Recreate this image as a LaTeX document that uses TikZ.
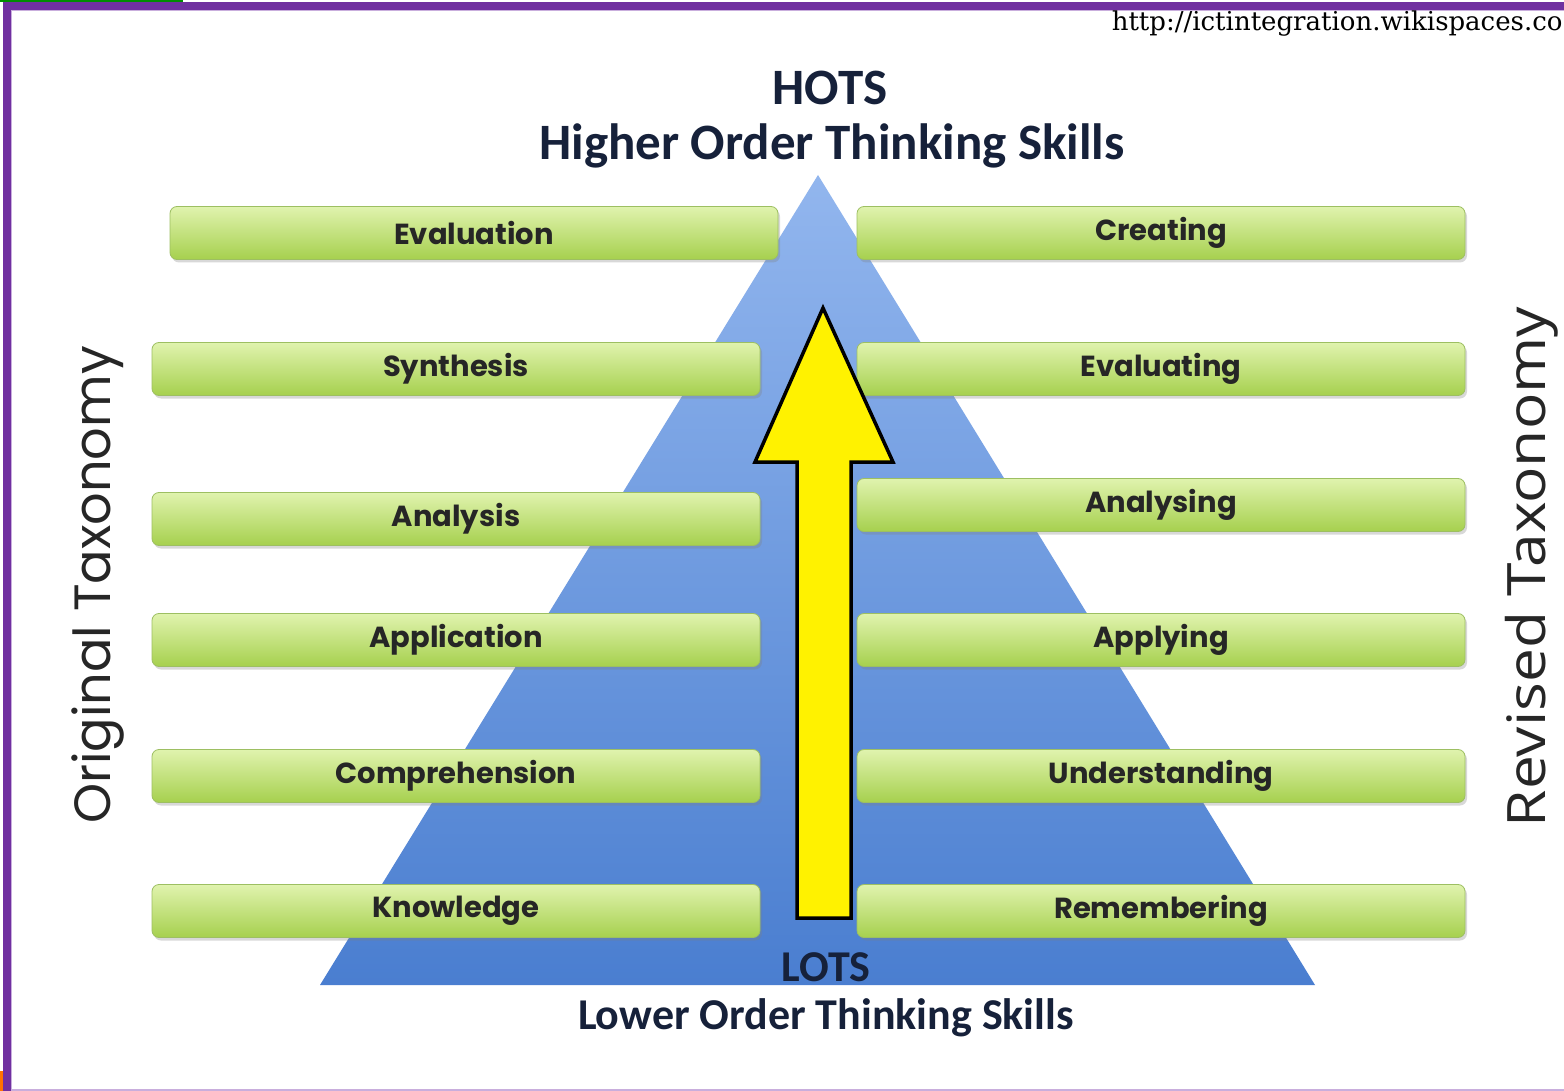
\documentclass[tikz,border=0pt]{standalone}
\usepackage{fontspec}
\setmainfont{Liberation Serif}
\newfontfamily\urlfont{DejaVu Serif}
\newfontfamily\gothic{Poppins}
\newfontfamily\calib{Carlito}
\newfontfamily\opensans[FakeStretch=1.14]{Open Sans}
\usetikzlibrary{shadows}
\definecolor{frame}{HTML}{7030A0}
\definecolor{framelight}{HTML}{C9AEDD}
\definecolor{pyrtop}{HTML}{92B6EE}
\definecolor{pyrbot}{HTML}{4A7ED0}
\definecolor{boxtop}{HTML}{E0F3AE}
\definecolor{boxbot}{HTML}{A6D04E}
\definecolor{boxedge}{HTML}{9DBF62}
\definecolor{navy}{HTML}{16213A}
\tikzset{
  skill/.style={minimum width=608, minimum height=53, rounded corners=7,
    top color=boxtop, bottom color=boxbot, draw=boxedge, line width=0.8,
    drop shadow={shadow xshift=2pt, shadow yshift=-3pt, opacity=0.3},
    font=\gothic\bfseries\fontsize{29}{32}\selectfont, text=black!85},
  heading/.style={font=\calib\bfseries\fontsize{51}{56}\selectfont, text=navy},
  subheading/.style={font=\calib\bfseries\fontsize{44}{48}\selectfont, text=navy},
  side/.style={text=black!85, rotate=90}
}
\begin{document}
\begin{tikzpicture}[x=1pt,y=-1pt]
    \useasboundingbox (0,0) rectangle (1564,1091);
    \fill[white] (0,0) rectangle (1564,1091);
    \fill[frame] (3,2) rectangle (1564,10);
    \fill[frame] (3,2) rectangle (11,1091);
    \draw[framelight,line width=1] (11.5,10.5) -- (1564,10.5);
    \draw[framelight,line width=1] (11.5,10.5) -- (11.5,1091);
    \draw[framelight,line width=2] (11,1090) -- (1564,1090);
    \fill[green!55!black] (0,0) rectangle (183,2);
    \fill[orange!90!red] (0,1071) rectangle (3,1091);
    \node[anchor=east, font=\urlfont\fontsize{26}{28}\selectfont] (url) at (1566,24) {http://ictintegration.wikispaces.co};
    \shade[top color=pyrtop, bottom color=pyrbot] (818,175) -- (1315,985) -- (320,985) -- cycle;
    \node[heading] (hots) at (830,88) {HOTS};
    \node[heading] (higher) at (832,146) {Higher Order Thinking Skills};
    \node[subheading] (lots) at (826,967) {LOTS};
    \node[subheading] (lower) at (826,1018) {Lower Order Thinking Skills};
    \node[skill] (evaluation) at (474,233) {Evaluation};
    \node[skill] (synthesis) at (456,369) {Synthesis};
    \node[skill] (analysis) at (456,519) {Analysis};
    \node[skill] (application) at (456,640) {Application};
    \node[skill] (comprehension) at (456,776) {Comprehension};
    \node[skill] (knowledge) at (456,911) {Knowledge};
    \node[skill] (creating) at (1161,233) {Creating};
    \node[skill] (evaluating) at (1161,369) {Evaluating};
    \node[skill] (analysing) at (1161,505) {Analysing};
    \node[skill] (applying) at (1161,640) {Applying};
    \node[skill] (understanding) at (1161,776) {Understanding};
    \node[skill] (remembering) at (1161,911) {Remembering};
    \draw[fill=yellow, line width=3.5, line join=miter] (823,308) -- (893,462) -- (851,462) -- (851,918)
      -- (797,918) -- (797,462) -- (755,462) -- cycle;
    \node[side, font=\gothic\fontsize{51}{54}\selectfont] (original) at (98,585) {Original Taxonomy};
    \node[side, font=\opensans\fontsize{53}{56}\selectfont] (revised) at (1532,567) {Revised Taxonomy};
  \end{tikzpicture}
\end{document}
